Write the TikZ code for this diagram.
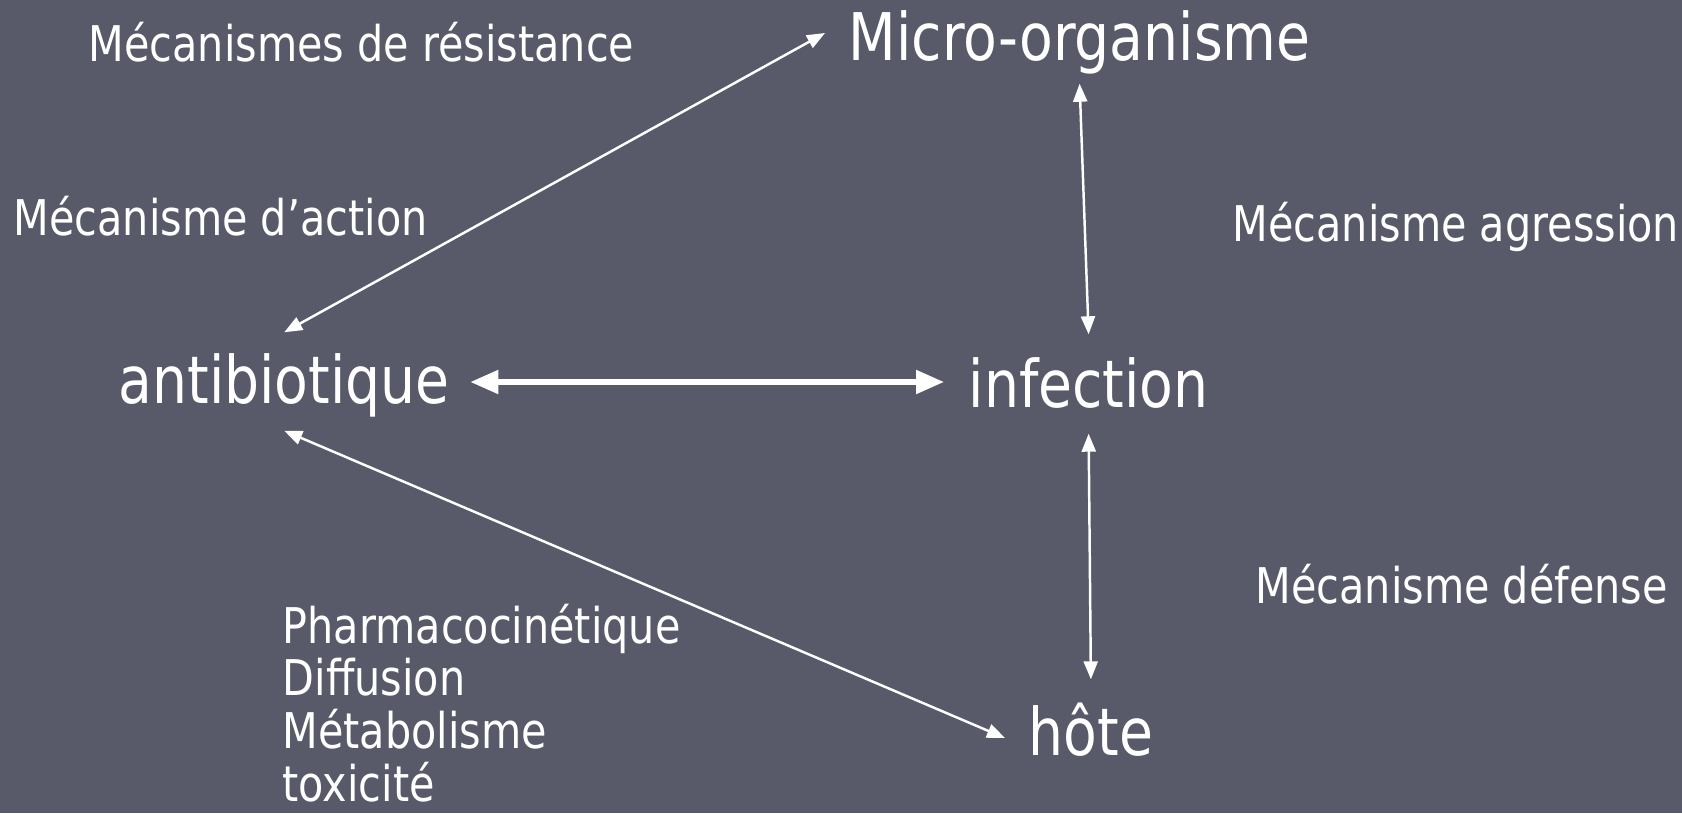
\documentclass[tikz,border=0pt]{standalone}
\usepackage{fontspec}
\setmainfont{DejaVu Sans}[FakeStretch=0.84]
\usepackage{xcolor}
\usepackage{tikz}
\usetikzlibrary{arrows.meta}

\definecolor{slide_bg}{RGB}{88,90,105}

\begin{document}
\begin{tikzpicture}[
    x=0.1mm, y=-0.1mm,
    big_label/.style = {
        anchor=base west,
        inner sep=0pt,
        text=white,
        text height=4.7mm,
        text depth=1.3mm,
        font=\fontsize{18.7pt}{22pt}\selectfont
    },
    small_label/.style = {
        anchor=base west,
        inner sep=0pt,
        text=white,
        align=left,
        font=\fontsize{14pt}{14.94pt}\selectfont
    },
    arrow/.style = {
        {Triangle[length=1.8mm,width=1.4mm]}-{Triangle[length=1.8mm,width=1.4mm]},
        line width=0.7pt,
        draw=white
    },
    thick_arrow/.style = {
        {Triangle[length=2.8mm,width=2.3mm]}-{Triangle[length=2.8mm,width=2.3mm]},
        line width=1.45pt,
        draw=white
    }
]

    % Background
    \fill [slide_bg] (0,0) rectangle (1682,813);

    % Node Definitions
    \node [big_label] (micro) at (848,60) {Micro-organisme};
    \node [big_label] (anti) at (118,403) {antibiotique};
    \node [big_label] (inf) at (968,407) {infection};
    \node [big_label] (hote) at (1028,755) {hôte};

    \node [small_label] (resist) at (88,61) {Mécanismes de résistance};
    \node [small_label] (action) at (13,235) {Mécanisme d’action};
    \node [small_label] (agress) at (1232,241) {Mécanisme agression};
    \node [small_label] (defense) at (1255,603) {Mécanisme défense};
    % base of a multi-line node = last line
    \node [small_label] (pharma) at (282,801) {Pharmacocinétique\\Diffusion\\Métabolisme\\toxicité};

    % Arrows connecting nodes
    \draw [arrow] ([yshift=2.3mm]anti.north) -- ([xshift=-2.3mm,yshift=1mm]micro.west);
    \draw [thick_arrow] ([xshift=2mm,yshift=0.4mm]anti.east) -- ([xshift=-2.4mm,yshift=0.8mm]inf.west);
    \draw [arrow] ([yshift=-1mm]micro.south) -- ([yshift=2.5mm]inf.north);
    \draw [arrow] ([yshift=-1.3mm]inf.south) -- ([yshift=2.8mm]hote.north);
    \draw [arrow] ([yshift=-1.4mm]anti.south) -- ([xshift=-2.3mm]hote.west);

\end{tikzpicture}
\end{document}
